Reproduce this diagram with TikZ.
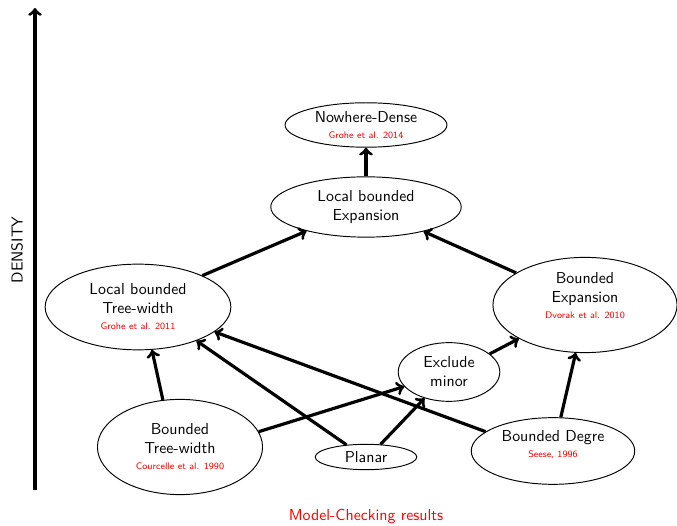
\documentclass[tikz,border=0pt]{standalone}
\usepackage{amsmath,amsfonts,amssymb}
\usepackage{tikz}
\usetikzlibrary{shapes.geometric}
\renewcommand{\familydefault}{\sfdefault}
\newcommand{\refcite}[1]{{\fontsize{6}{7}\selectfont\color{red}#1}}

\begin{document}
\begin{tikzpicture}[x=0.63pt, y=-0.63pt,
  cls/.style={ellipse, draw, semithick, align=center, inner sep=0pt},
  impl/.style={->, line width=2pt}]
\useasboundingbox (0,0) rectangle (677,526);
\coordinate (low) at (35,490);
\coordinate (high) at (35,8);
\draw[impl] (low) -- (high);
\node[rotate=90] (density) at (17,250) {DENSITY};
\node[text=red] (results) at (366,517) {Model-Checking results};

\node[cls, minimum width=102pt, minimum height=28pt] (ND) at (366,125) {Nowhere-Dense\\[-2pt]\refcite{Grohe et al. 2014}};
\node[cls, minimum width=120pt, minimum height=38pt] (LBE) at (366,207) {Local bounded\\Expansion};
\node[cls, minimum width=117pt, minimum height=54pt] (LBTW) at (138,307) {Local bounded\\Tree-width\\[-2pt]\refcite{Grohe et al. 2011}};
\node[cls, minimum width=116pt, minimum height=60pt] (BE) at (585,305) {Bounded\\Expansion\\[-2pt]\refcite{Dvorak et al. 2010}\\};
\node[cls, minimum width=64pt, minimum height=37pt] (EM) at (449,372) {Exclude\\minor};
\node[cls, minimum width=104pt, minimum height=60pt] (BTW) at (180,447) {Bounded\\Tree-width\\[-2pt]\refcite{Courcelle et al. 1990}};
\node[cls, minimum width=64pt, minimum height=16pt] (P) at (366,457) {Planar};
\node[cls, minimum width=103pt, minimum height=42pt] (BD) at (553,451) {Bounded Degre\\[-2pt]\refcite{Seese, 1996}\\[-3pt]};

\draw[impl] (LBE.north) -- (ND.south);
\draw[impl] (LBTW.26) -- (LBE.202);
\draw[impl] (BE.155) -- (LBE.337);
\draw[impl] (BTW.110) -- (LBTW.288);
\draw[impl] (BTW.11) -- (EM.198);
\draw[impl] (P.148) -- (LBTW.330);
\draw[impl] (P.41) -- (EM.227);
\draw[impl] (BD.164) -- (LBTW.342);
\draw[impl] (EM.24) -- (BE.207);
\draw[impl] (BD.77) -- (BE.259);
\end{tikzpicture}
\end{document}
